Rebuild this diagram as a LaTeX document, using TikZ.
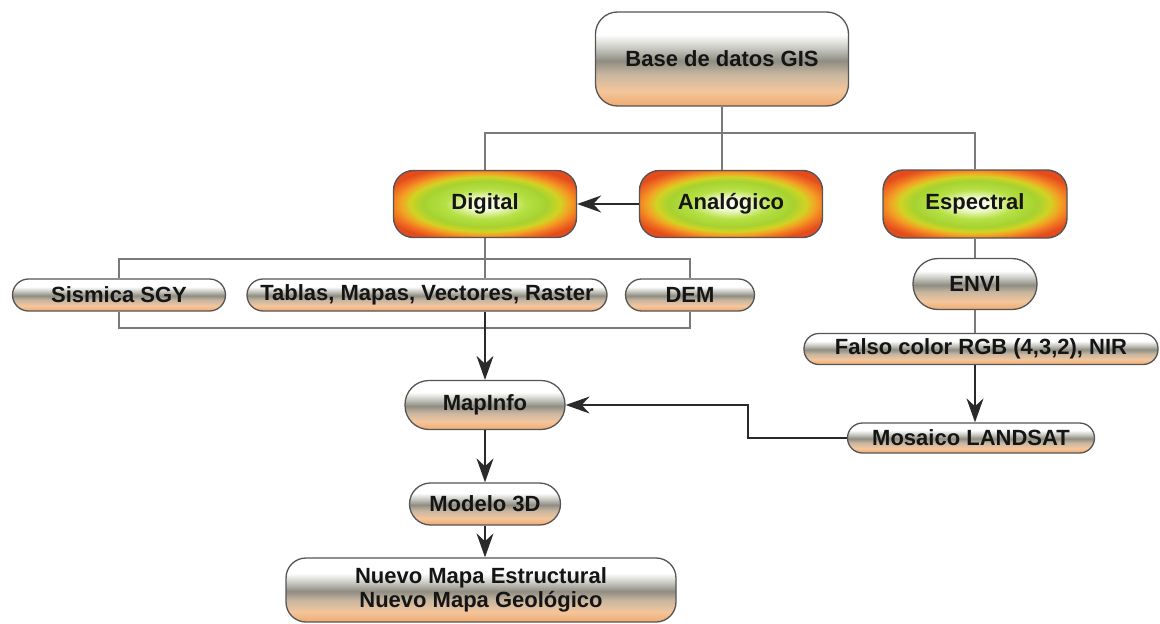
\documentclass[tikz,border=0pt]{standalone}
\usepackage{fontspec}
\setmainfont{Liberation Sans}
\usetikzlibrary{arrows.meta,calc}
\definecolor{pkD}{HTML}{EFAA70}
\definecolor{pkM}{HTML}{F4C69C}
\definecolor{tanG}{HTML}{C8B6A0}
\definecolor{grD}{HTML}{8F8D82}
\definecolor{grL}{HTML}{CACAC4}
\definecolor{glA}{HTML}{EEF8C8}
\definecolor{glB}{HTML}{B6E044}
\definecolor{glC}{HTML}{A6D230}
\definecolor{glD}{HTML}{D2D224}
\definecolor{glE}{HTML}{F2A424}
\definecolor{glF}{HTML}{F07222}
\definecolor{glG}{HTML}{E44C1C}
\definecolor{boxline}{HTML}{555555}
\definecolor{treeline}{HTML}{7A7A7A}
\definecolor{arrline}{HTML}{2A2A2A}
\definecolor{txt}{HTML}{151515}
\pgfdeclareverticalshading{pillshade}{100bp}{color(0bp)=(pkD); color(25bp)=(pkD); color(33bp)=(pkM); color(42bp)=(tanG); color(49bp)=(grD); color(56bp)=(grL); color(63bp)=(white); color(100bp)=(white)}
\pgfdeclareradialshading{glow}{\pgfpoint{0bp}{0bp}}{color(0bp)=(white); color(5bp)=(glA); color(11bp)=(glB); color(17bp)=(glC); color(20.5bp)=(glD); color(23bp)=(glE); color(26bp)=(glF); color(29bp)=(glG); color(50bp)=(glG)}
\tikzset{
  lbl/.style={font=\fontsize{22}{24}\selectfont\bfseries, text=txt, inner sep=0pt, align=center},
  graybox/.style={lbl, draw=boxline, line width=1.3pt, shading=pillshade, rounded corners=15pt},
  glowbox/.style={lbl, draw=boxline, line width=1.4pt, shading=glow, rounded corners=20pt},
  tree/.style={draw=treeline, line width=1.3pt},
  arr/.style={draw=arrline, line width=1.5pt, -{Stealth[length=24pt, width=17pt, inset=8pt]}}
}
\begin{document}
\begin{tikzpicture}[x=1pt, y=-1pt]
\useasboundingbox (0,0) rectangle (1160,624);
% nodes
\node[graybox, rounded corners=22pt, minimum width=253pt, minimum height=94pt] (base) at (722,59) {Base de datos GIS};
\node[glowbox, minimum width=183pt, minimum height=67pt] (dig) at (485,204) {Digital};
\node[glowbox, minimum width=183pt, minimum height=67pt] (ana) at (731,204) {Analógico};
\node[glowbox, minimum width=184pt, minimum height=68pt] (esp) at (975,204) {Espectral};
\node[graybox, minimum width=213pt, minimum height=32pt, rounded corners=16pt] (sis) at (119,295) {Sismica SGY};
\node[graybox, minimum width=360pt, minimum height=32pt, rounded corners=16pt] (tab) at (427,295) {Tablas, Mapas, Vectores, Raster};
\node[graybox, minimum width=129pt, minimum height=32pt, rounded corners=16pt] (dem) at (690,295) {DEM};
\node[graybox, minimum width=124pt, minimum height=51pt, rounded corners=25pt] (envi) at (975,284) {ENVI};
\node[graybox, minimum width=354pt, minimum height=31pt, rounded corners=15pt] (falso) at (981,349) {Falso color RGB (4,3,2), NIR};
\node[graybox, minimum width=247pt, minimum height=30pt, rounded corners=15pt] (mos) at (971,438) {Mosaico LANDSAT};
\node[graybox, minimum width=160pt, minimum height=49pt, rounded corners=24pt] (map) at (485,405) {MapInfo};
\node[graybox, minimum width=151pt, minimum height=42pt, rounded corners=21pt] (mod) at (485,504) {Modelo 3D};
\node[graybox, minimum width=390pt, minimum height=64pt, rounded corners=20pt] (nuevo) at (481,590) {Nuevo Mapa Estructural\\Nuevo Mapa Geológico};
% junction coordinates
\coordinate (bj) at (722,133);
\coordinate (tt) at (485,259);
\coordinate (tb) at (485,328);
\coordinate (bend) at (748,438);
% tree from base
\draw[tree] (base.south) -- (base.south |- ana.north);
\draw[tree] (dig.north) -- (dig.north |- bj) -- (esp.north |- bj) -- (esp.north);
% digital bracket
\draw[tree] (dig.south) -- (dig.south |- tab.north);
\draw[tree] (sis.north) -- (sis.north |- tt) -- (dem.north |- tt) -- (dem.north);
\draw[tree] (sis.south) -- (sis.south |- tb) -- (dem.south |- tb) -- (dem.south);
% espectral chain
\draw[tree] (esp.south) -- (envi.north);
\draw[tree] (envi.south) -- (envi.south |- falso.north);
% arrows
\draw[arr] (ana.west) -- (dig.east);
\draw[arr] (dig.south |- tab.south) -- (map.north);
\draw[arr] (envi.south |- falso.south) -- (envi.south |- mos.north);
\draw[arr] (mos.west) -- (bend) |- (map.east);
\draw[arr] (map.south) -- (mod.north);
\draw[arr] (mod.south) -- (mod.south |- nuevo.north);
\end{tikzpicture}
\end{document}
